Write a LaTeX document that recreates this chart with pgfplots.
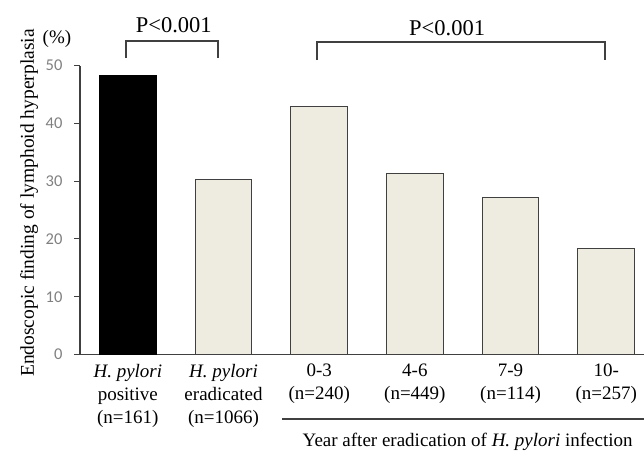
\documentclass[border=0pt]{standalone}
\usepackage{pgfplots}
\pgfplotsset{compat=1.18}
\usepackage{fontspec}
\setmainfont{Liberation Serif}
\newfontfamily\tickfont{Carlito}
\definecolor{beige}{HTML}{EEECE1}
\definecolor{edge}{HTML}{404040}
\definecolor{tickgray}{HTML}{808080}
\begin{document}
\begin{tikzpicture}
\path[use as bounding box] (0,0) rectangle (644pt,452pt);
\begin{axis}[
  at={(80pt,97.5pt)}, anchor=south west,
  scale only axis, width=564pt, height=288.8pt,
  xmin=-0.5, xmax=5.395, ymin=0, ymax=50,
  axis lines*=left,
  /pgf/number format/assume math mode=true,
  ytick={0,10,...,50}, xtick={0,...,5},
  xticklabels={{\textit{H. pylori}\\positive\\(n=161)},{\textit{H. pylori}\\eradicated\\(n=1066)},{0-3\\(n=240)},{4-6\\(n=449)},{7-9\\(n=114)},{10-\\(n=257)}},
  xtick style={draw=none},
  ytick style={edge, line width=1pt},
  tick align=outside, major tick length=6pt,
  axis line style={edge, line width=1.2pt},
  yticklabel style={font=\tickfont\fontsize{16.5}{19}\selectfont, text=tickgray, xshift=-8pt},
  xticklabel style={font=\rmfamily\fontsize{19}{23.3}\selectfont, align=center, anchor=north},
  clip=false,
  ybar, bar width=0.59,
]
\addplot[fill=black, draw=black, bar shift=0pt] coordinates {(0,48.3)};
\addplot[fill=beige, draw=edge, line width=1pt, bar shift=0pt] coordinates {(1,30.3) (2,42.9) (3,31.4) (4,27.2) (5,18.3)};
\draw[edge, line width=1.5pt] (axis cs:-0.018,51.33) -- (axis cs:-0.018,54.28) -- (axis cs:0.944,54.28) -- (axis cs:0.944,51.33);
\node[font=\rmfamily\fontsize{22.5}{26}\selectfont] at (axis cs:0.48,57.05) {P<0.001};
\draw[edge, line width=1.5pt] (axis cs:1.976,50.95) -- (axis cs:1.976,54.1) -- (axis cs:4.989,54.1) -- (axis cs:4.989,50.95);
\node[font=\rmfamily\fontsize{22.5}{26}\selectfont] at (axis cs:3.337,56.5) {P<0.001};
\draw[edge, line width=1.5pt] (axis cs:1.613,-11.17) -- (axis cs:5.5,-11.17);
\node[font=\rmfamily\fontsize{19}{23}\selectfont] at (axis cs:3.552,-15.15) {Year after eradication of \textit{H. pylori} infection};
\node[font=\rmfamily\fontsize{19.5}{23}\selectfont, rotate=90, anchor=center] at (axis description cs:-0.0904,0.5246) {Endoscopic finding of lymphoid hyperplasia};
\node[font=\rmfamily\fontsize{19}{23}\selectfont] at (axis description cs:-0.0408,1.093) {(\%)};
\end{axis}
\end{tikzpicture}
\end{document}
